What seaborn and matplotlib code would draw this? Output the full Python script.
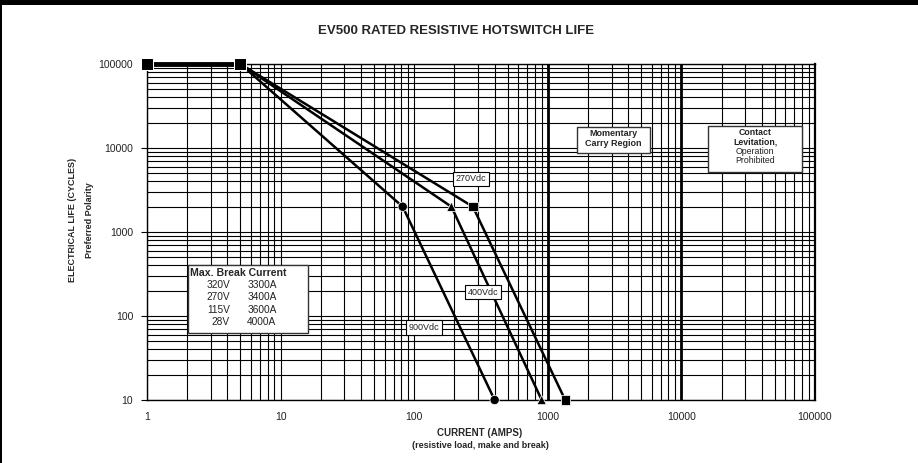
import matplotlib
matplotlib.use("Agg")
import matplotlib.pyplot as plt
import matplotlib.ticker as mticker
from matplotlib.patches import Rectangle
import pandas as pd
import seaborn as sns


# ============================================================
# DATA
# ============================================================

flat_current = [1, 5]
flat_cycles = [100000, 100000]

series_names = ["270Vdc", "400Vdc", "900Vdc"]
series_markers = ["s", "^", "o"]
start_current = 5
start_cycles = 100000
knee_current = [275, 190, 82]
knee_cycles = [2000, 2000, 2000]
end_current = [1350, 900, 400]
end_cycles = [10, 10, 10]

break_voltage = ["320V", "270V", "115V", "28V"]
break_current = ["3300A", "3400A", "3600A", "4000A"]

x_ticks = [1, 10, 100, 1000, 10000, 100000]
y_ticks = [10, 100, 1000, 10000, 100000]

rows = []
for name, kc, ky, ec, ey in zip(series_names, knee_current, knee_cycles,
                                end_current, end_cycles):
    rows.append((name, 0, start_current, start_cycles))
    rows.append((name, 1, kc, ky))
    rows.append((name, 2, ec, ey))
lines_df = pd.DataFrame(rows, columns=["series", "order", "current", "cycles"])
points_df = lines_df[lines_df["order"] > 0]


# ============================================================
# FIGURE
# ============================================================

sns.set_theme(style="white")
plt.rcParams["font.family"] = ["Liberation Sans", "DejaVu Sans"]

fig = plt.figure(figsize=(9.18, 4.63), dpi=100)
ax = fig.add_axes([147 / 918, 1 - 400 / 463, 668 / 918, 336 / 463])

ax.set_xscale("log")
ax.set_yscale("log")
ax.set_xlim(1, 100000)
ax.set_ylim(10, 100000)

ax.grid(which="both", color="black", lw=0.8)
ax.set_axisbelow(True)
for v in [1000, 10000]:
    ax.axvline(v, color="black", lw=2.0, zorder=1.5)

sns.lineplot(
    data=lines_df, x="current", y="cycles", hue="series",
    palette=["black"] * 3, sort=False, estimator=None,
    lw=1.8, legend=False, ax=ax, zorder=3
)

sns.lineplot(
    x=flat_current, y=flat_cycles, color="black", lw=3.5,
    marker="s", markersize=8, clip_on=False, ax=ax, zorder=4
)

sns.scatterplot(
    data=points_df, x="current", y="cycles", style="series",
    markers=dict(zip(series_names, series_markers)),
    color="black", s=45, legend=False, clip_on=False, ax=ax, zorder=5
)

ax.xaxis.set_major_locator(mticker.FixedLocator(x_ticks))
ax.yaxis.set_major_locator(mticker.FixedLocator(y_ticks))
fmt = mticker.FuncFormatter(lambda v, p: f"{int(round(v))}")
ax.xaxis.set_major_formatter(fmt)
ax.yaxis.set_major_formatter(fmt)
ax.xaxis.set_minor_formatter(mticker.NullFormatter())
ax.yaxis.set_minor_formatter(mticker.NullFormatter())
ax.tick_params(axis="x", which="both", length=0, pad=9,
               labelsize=7.5, labelcolor="#222222")
ax.tick_params(axis="y", which="major", length=4, width=0.8,
               direction="out", color="black", left=True,
               labelsize=7.5, labelcolor="#222222", pad=6)
ax.tick_params(axis="y", which="minor", length=0)
ax.set_xlabel("")
ax.set_ylabel("")

for side in ["left", "bottom", "top", "right"]:
    ax.spines[side].set_color("black")
    ax.spines[side].set_linewidth(1.0)
ax.spines["right"].set_linewidth(1.6)

# curve labels
box = dict(boxstyle="square,pad=0.3", fc="white", ec="black", lw=0.8)
label_pos = [(265, 4300), (327, 193), (118, 73)]
for name, (lx, ly) in zip(series_names, label_pos):
    ax.text(lx, ly, name, fontsize=6.5, ha="center", va="center",
            bbox=box, zorder=6, color="#222222")

# max break current box
ax.add_patch(Rectangle((0.0614, 0.199), 0.180, 0.203, transform=ax.transAxes,
                       fc="white", ec="#333333", lw=1.0, zorder=6))
ax.text(0.064, 0.378, "Max. Break Current", transform=ax.transAxes,
        fontsize=7.6, fontweight="bold", ha="left", va="center", zorder=7)
row_y = [0.342, 0.306, 0.268, 0.232]
for v, a, ry in zip(break_voltage, break_current, row_y):
    ax.text(0.124, ry, v, transform=ax.transAxes, fontsize=7.3,
            ha="right", va="center", zorder=7, color="#222222")
    ax.text(0.150, ry, a, transform=ax.transAxes, fontsize=7.3,
            ha="left", va="center", zorder=7, color="#222222")

# region boxes
ax.add_patch(Rectangle(((577 - 147) / 668, (400 - 153) / 336), 73 / 668, 26 / 336,
                       transform=ax.transAxes, fc="white", ec="#333333",
                       lw=1.0, zorder=6))
for txt, py in [("Momentary", 134), ("Carry Region", 144)]:
    ax.text((613 - 147) / 668, (400 - py) / 336, txt, transform=ax.transAxes,
            fontsize=6.5, fontweight="bold", ha="center", va="center", zorder=7)

ax.add_patch(Rectangle(((708 - 147) / 668, (400 - 172) / 336), 94 / 668, 46 / 336,
                       transform=ax.transAxes, fc="white", ec="#333333",
                       lw=1.0, zorder=6))
for txt, py, wt in [("Contact", 133, "bold"), ("Levitation,", 142, "bold"),
                    ("Operation", 152, "normal"), ("Prohibited", 161, "normal")]:
    ax.text((755 - 147) / 668, (400 - py) / 336, txt, transform=ax.transAxes,
            fontsize=6.3, fontweight=wt, ha="center", va="center", zorder=7,
            color="#222222")

# titles and axis labels
fig.text(0.497, 0.933, "EV500 RATED RESISTIVE HOTSWITCH LIFE",
         fontsize=9.5, fontweight="bold", ha="center", va="center")
fig.text(0.0795, 0.525, "ELECTRICAL LIFE (CYCLES)", rotation=90,
         fontsize=6.5, fontweight="bold", ha="center", va="center")
fig.text(0.098, 0.525, "Preferred Polarity", rotation=90,
         fontsize=6.5, fontweight="bold", ha="center", va="center")
fig.text(0.523, 1 - 433 / 463, "CURRENT (AMPS)",
         fontsize=7, fontweight="bold", ha="center", va="center")
fig.text(0.523, 1 - 445 / 463, "(resistive load, make and break)",
         fontsize=6.5, fontweight="bold", ha="center", va="center")

# frame around the picture
fig.add_artist(Rectangle((0, 1 - 5 / 463), 1, 5 / 463, transform=fig.transFigure,
                         fc="black", ec="none"))
fig.add_artist(Rectangle((0, 0), 2 / 918, 1, transform=fig.transFigure,
                         fc="black", ec="none"))

plt.savefig("out.png", dpi=100)
plt.close()
